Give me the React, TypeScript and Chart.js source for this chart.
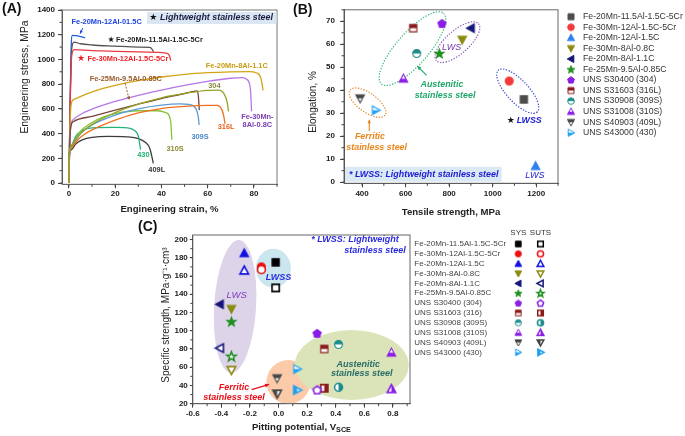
import React, { useEffect, useRef } from 'react';
import { Chart, registerables } from 'chart.js';

Chart.register(...registerables);

const FONT = '"Liberation Sans", Arial, Helvetica, sans-serif';

/* ---------------- Panel A: engineering stress-strain curves ---------------- */
const strainTicks = [0, 20, 40, 60, 80];
const stressTicks = [0, 200, 400, 600, 800, 1000, 1200, 1400];

// [engineering strain (%), engineering stress (MPa)]
const curveFe20Mn12Al15C = [[0, 0], [0.4, 520], [0.9, 1060], [1.5, 1195], [3, 1192], [5, 1185], [7, 1176]];
const curveFe20Mn115Al15C5Cr = [[0, 0], [0.5, 620], [1.2, 1085], [2.2, 1140], [5, 1127], [10, 1117], [20, 1108], [30, 1100], [35, 1097], [36, 1082], [36.6, 1062]];
const curveFe30Mn12Al15C5Cr = [[0, 0], [0.5, 600], [1.2, 1030], [2.2, 1080], [10, 1071], [20, 1066], [30, 1062], [38, 1058], [42, 1052], [43.5, 1030], [44, 990]];
const curveFe20Mn8Al11C = [[0, 0], [0.4, 420], [1, 640], [2, 675], [5, 700], [10, 738], [20, 790], [30, 828], [40, 858], [50, 880], [60, 893], [70, 900], [78, 902], [81, 892], [83, 850], [84, 750]];
const curveFe30Mn8Al08C = [[0, 0], [0.4, 350], [1, 480], [2, 515], [5, 555], [10, 598], [20, 660], [30, 710], [40, 752], [50, 790], [60, 823], [70, 848], [75, 853], [77, 838], [78.5, 760], [79, 580]];
const curveFe25Mn95Al085C = [[0, 0], [0.4, 350], [1, 470], [2, 498], [10, 540], [20, 590], [30, 638], [40, 684], [50, 724], [54, 742], [55.5, 745], [56, 700], [56.4, 590]];
const curve304 = [[0, 0], [0.2, 220], [1, 300], [5, 400], [10, 475], [20, 570], [30, 638], [40, 690], [50, 725], [60, 750], [65, 752], [67, 725], [68.5, 650], [69, 580]];
const curve316L = [[0, 0], [0.2, 220], [1, 285], [5, 370], [10, 430], [20, 510], [30, 568], [40, 603], [50, 620], [60, 628], [64, 628], [66, 600], [67, 540], [67.5, 480]];
const curve309S = [[0, 0], [0.2, 220], [1, 290], [5, 400], [10, 470], [20, 550], [30, 600], [40, 630], [48, 640], [52, 636], [55, 600], [56, 530], [56.3, 470]];
const curve310S = [[0, 0], [0.2, 230], [1, 300], [5, 420], [10, 490], [15, 535], [20, 562], [30, 585], [38, 585], [42, 570], [44, 500], [44.5, 350]];
const curve430 = [[0, 0], [0.2, 240], [1, 300], [3, 380], [6, 428], [10, 447], [20, 450], [25, 447], [28, 430], [30, 380], [31, 270]];
const curve409L = [[0, 0], [0.2, 230], [1, 268], [3, 318], [6, 352], [10, 370], [17, 378], [25, 374], [30, 360], [33, 330], [35, 280], [36.5, 160]];

/* ---------------- Panel B: elongation vs tensile strength ---------------- */
const materialsB = ['Fe-20Mn-11.5Al-1.5C-5Cr', 'Fe-30Mn-12Al-1.5C-5Cr', 'Fe-20Mn-12Al-1.5C', 'Fe-30Mn-8Al-0.8C', 'Fe-20Mn-8Al-1.1C', 'Fe-25Mn-9.5Al-0.85C', 'UNS S30400 (304)', 'UNS S31603 (316L)', 'UNS S30908 (309S)', 'UNS S31008 (310S)', 'UNS S40903 (409L)', 'UNS S43000 (430)'];
const tensileStrength = [1143, 1076, 1197, 860, 900, 755, 767, 635, 651, 590, 391, 463];
const elongation = [36, 44, 7, 62, 67, 56, 69, 67, 56, 45, 36.5, 31.3];
const tensileTicks = [400, 600, 800, 1000, 1200];
const elongationTicks = [0, 10, 20, 30, 40, 50, 60, 70];

/* ---------------- Panel C: specific strength vs pitting potential ---------------- */
const materialsC = ['Fe-20Mn-11.5Al-1.5C-5Cr', 'Fe-30Mn-12Al-1.5C-5Cr', 'Fe-20Mn-12Al-1.5C', 'Fe-30Mn-8Al-0.8C', 'Fe-20Mn-8Al-1.1C', 'Fe-25Mn-9.5Al-0.85C', 'UNS S30400 (304)', 'UNS S31603 (316)', 'UNS S30908 (309S)', 'UNS S31008 (310S)', 'UNS S40903 (409L)', 'UNS S43000 (430)'];
const pittingPotential = [-0.02, -0.12, -0.24, -0.33, -0.41, -0.33, 0.27, 0.32, 0.42, 0.79, -0.01, 0.13];
const specificStrengthSYS = [175, 170, 185, 124, 129, 110, 97, 80, 85, 76, 48, 58];
const specificStrengthSUTS = [147, 167, 166, 57, 81, 72, 35, 37, 38, 36, 31, 35];
const potentialTicks = [-0.6, -0.4, -0.2, 0, 0.2, 0.4, 0.6, 0.8];
const specificTicks = [20, 40, 60, 80, 100, 120, 140, 160, 180, 200];

/* ---------------- styles ---------------- */
const shapes = ['square', 'circle', 'triUp', 'triDown', 'triLeft', 'star', 'pentagon', 'square', 'circle', 'triUp', 'triDown', 'triRight'];
const colorsB = ['#4d4d4d', '#f23a3a', '#2f7ff0', '#8b8b12', '#14147a', '#1f8f1f', '#8a1ee6', '#8b1c1c', '#1f8c8c', '#8a1ee6', '#444444', '#1ea0f0'];
const colorsC = ['#000000', '#ee1010', '#1010e0', '#8b8b12', '#14147a', '#1f8f1f', '#8a1ee6', '#8b1c1c', '#1f8c8c', '#8a1ee6', '#444444', '#1ea0f0'];
const fillSYS = ['full', 'full', 'full', 'full', 'full', 'full', 'full', 'top', 'top', 'bottom', 'top', 'bottom'];
const fillSUTS = ['none', 'none', 'none', 'none', 'none', 'none', 'none', 'right', 'right', 'right', 'left', 'left'];

function tracePath(ctx: CanvasRenderingContext2D, shape: string, r: number) {
  ctx.beginPath();
  const poly = (pts: number[][]) => {
    ctx.moveTo(pts[0][0], pts[0][1]);
    for (let i = 1; i < pts.length; i++) ctx.lineTo(pts[i][0], pts[i][1]);
    ctx.closePath();
  };
  switch (shape) {
    case 'square': ctx.rect(-r * 0.8, -r * 0.8, r * 1.6, r * 1.6); break;
    case 'circle': ctx.arc(0, 0, r * 0.88, 0, Math.PI * 2); break;
    case 'triUp': poly([[0, -r], [r * 0.95, r * 0.75], [-r * 0.95, r * 0.75]]); break;
    case 'triDown': poly([[0, r], [r * 0.95, -r * 0.75], [-r * 0.95, -r * 0.75]]); break;
    case 'triLeft': poly([[-r, 0], [r * 0.75, -r * 0.95], [r * 0.75, r * 0.95]]); break;
    case 'triRight': poly([[r, 0], [-r * 0.75, -r * 0.95], [-r * 0.75, r * 0.95]]); break;
    case 'star': {
      const pts: number[][] = [];
      for (let i = 0; i < 10; i++) {
        const ang = -Math.PI / 2 + (i * Math.PI) / 5;
        const rr = i % 2 === 0 ? r * 1.08 : r * 0.45;
        pts.push([rr * Math.cos(ang), rr * Math.sin(ang) + r * 0.08]);
      }
      poly(pts);
      break;
    }
    case 'pentagon': {
      const pts: number[][] = [];
      for (let i = 0; i < 5; i++) {
        const ang = -Math.PI / 2 + (i * 2 * Math.PI) / 5;
        pts.push([r * 0.95 * Math.cos(ang), r * 0.95 * Math.sin(ang) + r * 0.06]);
      }
      poly(pts);
      break;
    }
  }
}

function makeMarker(shape: string, color: string, fill: string, size: number, lw: number): HTMLCanvasElement {
  const c = document.createElement('canvas');
  const dim = Math.ceil(size + 4);
  c.width = dim;
  c.height = dim;
  const ctx = c.getContext('2d') as CanvasRenderingContext2D;
  ctx.translate(dim / 2, dim / 2);
  const r = size / 2;
  tracePath(ctx, shape, r);
  ctx.fillStyle = fill === 'full' ? color : '#ffffff';
  ctx.fill();
  if (fill !== 'full' && fill !== 'none') {
    ctx.save();
    tracePath(ctx, shape, r);
    ctx.clip();
    ctx.fillStyle = color;
    const e = r * 1.6;
    if (fill === 'top') ctx.fillRect(-e, -e, 2 * e, e);
    if (fill === 'bottom') ctx.fillRect(-e, 0, 2 * e, e);
    if (fill === 'left') ctx.fillRect(-e, -e, e, 2 * e);
    if (fill === 'right') ctx.fillRect(0, -e, e, 2 * e);
    ctx.restore();
  }
  tracePath(ctx, shape, r);
  ctx.strokeStyle = color;
  ctx.lineWidth = lw;
  ctx.stroke();
  return c;
}

function txt(ctx: CanvasRenderingContext2D, s: string, x: number, y: number, font: string, color: string, align: CanvasTextAlign = 'center') {
  ctx.font = font;
  ctx.fillStyle = color;
  ctx.textAlign = align;
  ctx.textBaseline = 'middle';
  ctx.fillText(s, x, y);
}

function vtxt(ctx: CanvasRenderingContext2D, s: string, x: number, y: number, font: string, color: string) {
  ctx.save();
  ctx.translate(x, y);
  ctx.rotate(-Math.PI / 2);
  txt(ctx, s, 0, 0, font, color);
  ctx.restore();
}

function arrow(ctx: CanvasRenderingContext2D, x1: number, y1: number, x2: number, y2: number, color: string, lw: number, head: number, dash?: number[]) {
  ctx.save();
  ctx.strokeStyle = color;
  ctx.fillStyle = color;
  ctx.lineWidth = lw;
  if (dash) ctx.setLineDash(dash);
  ctx.beginPath();
  ctx.moveTo(x1, y1);
  ctx.lineTo(x2, y2);
  ctx.stroke();
  ctx.setLineDash([]);
  const a = Math.atan2(y2 - y1, x2 - x1);
  ctx.beginPath();
  ctx.moveTo(x2, y2);
  ctx.lineTo(x2 - head * Math.cos(a - 0.45), y2 - head * Math.sin(a - 0.45));
  ctx.lineTo(x2 - head * Math.cos(a + 0.45), y2 - head * Math.sin(a + 0.45));
  ctx.closePath();
  ctx.fill();
  ctx.restore();
}

function axis(min: number, max: number, ticks: number[], fmt: (v: number) => string, o: any) {
  return {
    type: 'linear',
    min,
    max,
    afterBuildTicks: (s: any) => { s.ticks = ticks.map((v) => ({ value: v })); },
    afterFit: (s: any) => {
      if (o.w != null) s.width = o.w;
      if (o.h != null) s.height = o.h;
    },
    ticks: { font: { family: FONT, size: 8, weight: 'bold' }, color: '#1a1a1a', padding: o.pad, maxRotation: 0, autoSkip: false, callback: (v: any) => fmt(Number(v)) },
    grid: { drawOnChartArea: false, drawTicks: true, tickLength: o.tl ?? 4, color: '#444444', tickWidth: 1 },
    border: { display: true, color: '#444444', width: 1 },
  };
}

function framePlugin(id: string, xStep: number, yStep: number, color: string) {
  return {
    id,
    afterDraw(chart: any) {
      const { ctx, chartArea: a, scales } = chart;
      ctx.save();
      ctx.strokeStyle = color;
      ctx.lineWidth = 1;
      ctx.strokeRect(a.left, a.top, a.right - a.left, a.bottom - a.top);
      ctx.strokeStyle = '#444444';
      ctx.beginPath();
      const sx = scales.x, sy = scales.y;
      const x0 = Math.ceil(sx.min / xStep - 1e-9);
      const x1 = Math.floor(sx.max / xStep + 1e-9);
      for (let i = x0; i <= x1; i++) {
        const p = sx.getPixelForValue(i * xStep);
        ctx.moveTo(p, a.bottom);
        ctx.lineTo(p, a.bottom + 2.5);
      }
      const y0 = Math.ceil(sy.min / yStep - 1e-9);
      const y1 = Math.floor(sy.max / yStep + 1e-9);
      for (let i = y0; i <= y1; i++) {
        const p = sy.getPixelForValue(i * yStep);
        ctx.moveTo(a.left, p);
        ctx.lineTo(a.left - 2.5, p);
      }
      ctx.stroke();
      ctx.restore();
    },
  };
}

/* ---------------- Panel A ---------------- */
function configA(): any {
  const series = [
    { data: curve304, color: '#95a325' },
    { data: curve316L, color: '#f07020' },
    { data: curve309S, color: '#5a9ad6' },
    { data: curve310S, color: '#86c23a' },
    { data: curve430, color: '#25b27a' },
    { data: curve409L, color: '#3c3c3c' },
    { data: curveFe25Mn95Al085C, color: '#7a4535' },
    { data: curveFe30Mn8Al08C, color: '#b577e6' },
    { data: curveFe20Mn8Al11C, color: '#d2a414' },
    { data: curveFe30Mn12Al15C5Cr, color: '#e83a44' },
    { data: curveFe20Mn115Al15C5Cr, color: '#555555' },
    { data: curveFe20Mn12Al15C, color: '#1f5fe6' },
  ];
  const annot = {
    id: 'annotA',
    afterDraw(chart: any) {
      const { ctx, chartArea: a } = chart;
      const X = (v: number) => chart.scales.x.getPixelForValue(v);
      const Y = (v: number) => chart.scales.y.getPixelForValue(v);
      const B = `bold 7.4px ${FONT}`;
      ctx.save();
      ctx.fillStyle = '#dbe6f3';
      ctx.fillRect(X(33.8), Y(1384), a.right - 0.5 - X(33.8), Y(1287) - Y(1384));
      txt(ctx, '★', X(36.5), Y(1335), '9px "DejaVu Sans"', '#111111');
      txt(ctx, 'Lightweight stainless steel', X(39.4), Y(1335), `italic bold 8.9px ${FONT}`, '#1b1b40', 'left');

      txt(ctx, 'Fe-20Mn-12Al-01.5C', X(16.3), Y(1303), B, '#1f45e0');
      arrow(ctx, X(6), Y(1254), X(4.8), Y(1208), '#1f45e0', 1, 3.5);
      txt(ctx, '★', X(18.2), Y(1155), '8px "DejaVu Sans"', '#111111');
      txt(ctx, 'Fe-20Mn-11.5Al-1.5C-5Cr', X(20.4), Y(1155), B, '#222222', 'left');
      txt(ctx, '★', X(5.2), Y(1005), '9px "DejaVu Sans"', '#ee1c24');
      txt(ctx, 'Fe-30Mn-12Al-1.5C-5Cr', X(8), Y(1000), B, '#ee1c24', 'left');
      txt(ctx, 'Fe-25Mn-9.5Al-0.85C', X(24.6), Y(844), B, '#9a5a2a');
      arrow(ctx, X(24.3), Y(807), X(26.1), Y(672), '#9a5a2a', 1, 4, [2, 1.5]);
      txt(ctx, 'Fe-20Mn-8Al-1.1C', X(72.6), Y(950), B, '#c89a10');
      txt(ctx, '304', X(62.9), Y(785), B, '#8a8a40');
      txt(ctx, 'Fe-30Mn-', X(81.5), Y(532), B, '#7a40b0');
      txt(ctx, '8Al-0.8C', X(81.5), Y(470), B, '#7a40b0');
      txt(ctx, '316L', X(68), Y(453), B, '#e8641a');
      txt(ctx, '309S', X(56.7), Y(373), B, '#4a8ac8');
      txt(ctx, '310S', X(45.9), Y(275), B, '#8a8a30');
      txt(ctx, '430', X(32.2), Y(227), B, '#1ab070');
      txt(ctx, '409L', X(38), Y(106), B, '#333333');

      txt(ctx, '(A)', 2, 9.5, `bold 14px ${FONT}`, '#111111', 'left');
      vtxt(ctx, 'Engineering stress, MPa', 25, 77, `10.4px ${FONT}`, '#222222');
      txt(ctx, 'Engineering strain, %', (a.left + a.right) / 2, 209, `bold 9.6px ${FONT}`, '#222222');
      ctx.restore();
    },
  };
  return {
    type: 'scatter',
    data: {
      datasets: series.map((s) => ({
        data: s.data.map(([x, y]) => ({ x, y })),
        showLine: true,
        borderColor: s.color,
        backgroundColor: s.color,
        borderWidth: 1.3,
        pointRadius: 0,
        cubicInterpolationMode: 'monotone',
        fill: false,
      })),
    },
    options: {
      responsive: false,
      animation: false,
      events: [],
      layout: { padding: { left: 0, top: 10, right: 285 - 277, bottom: 0 } },
      plugins: { legend: { display: false }, tooltip: { enabled: false } },
      scales: {
        x: axis(-3, 90, strainTicks, (v) => String(v), { h: 222 - 184.3, pad: 1 }),
        y: axis(-10, 1400, stressTicks, (v) => String(v), { w: 62, pad: 3 }),
      },
    },
    plugins: [framePlugin('frameA', 10, 100, '#777777'), annot],
  };
}

/* ---------------- Panel B ---------------- */
function configB(): any {
  const markers = shapes.map((sh, i) => makeMarker(sh, colorsB[i], fillSYS[i], 9, 1.1));
  const legendMarkers = shapes.map((sh, i) => makeMarker(sh, colorsB[i], fillSYS[i], 7.5, 1));
  const annot = {
    id: 'annotB',
    beforeDatasetsDraw(chart: any) {
      const { ctx } = chart;
      const X = (v: number) => chart.scales.x.getPixelForValue(v);
      const Y = (v: number) => chart.scales.y.getPixelForValue(v);
      const ell = (cx: number, cy: number, ra: number, rb: number, rot: number, color: string) => {
        ctx.save();
        ctx.strokeStyle = color;
        ctx.lineWidth = 1.2;
        ctx.setLineDash([1.3, 1.5]);
        ctx.beginPath();
        ctx.ellipse(X(cx), Y(cy), ra, rb, rot, 0, Math.PI * 2);
        ctx.stroke();
        ctx.restore();
      };
      ell(631.5, 58.1, 47, 16, -0.85, '#33b87a');
      ell(838, 60.9, 28, 11.5, -0.72, '#8a5ab8');
      ell(424.8, 34.6, 21.5, 9.5, 0.62, '#e08a2a');
      ell(1115, 39.6, 28.5, 11, 0.82, '#3a46c8');
    },
    afterDraw(chart: any) {
      const { ctx, chartArea: a } = chart;
      const X = (v: number) => chart.scales.x.getPixelForValue(v);
      const Y = (v: number) => chart.scales.y.getPixelForValue(v);
      const BI = `italic bold 8.9px ${FONT}`;
      ctx.save();
      txt(ctx, 'Austenitic', X(767), Y(42.6), BI, '#22a86a');
      txt(ctx, 'stainless steel', X(781), Y(37.8), BI, '#22a86a');
      arrow(ctx, X(696.7), Y(46.5), X(653.6), Y(50.5), '#22a86a', 1.1, 4.5);
      txt(ctx, 'Ferritic', X(436.3), Y(19.7), BI, '#e8861a');
      txt(ctx, 'stainless steel', X(467), Y(15.1), BI, '#e8861a');
      arrow(ctx, X(433), Y(22.2), X(433), Y(27.2), '#e8861a', 1.1, 4);
      txt(ctx, 'LWS', X(811.6), Y(58.8), `italic 9px ${FONT}`, '#7a3ab0');
      txt(ctx, '★', X(1082.6), Y(26.7), '9px "DejaVu Sans"', '#111111');
      txt(ctx, 'LWSS', X(1110), Y(26.7), BI, '#1a1ad0', 'left');
      txt(ctx, 'LWS', X(1194), Y(2.8), `italic 9px ${FONT}`, '#1a1ad0');
      ctx.fillStyle = '#dbe9f5';
      ctx.fillRect(X(321.4), Y(6.7), X(1041) - X(321.4), Y(0.2) - Y(6.7));
      txt(ctx, '* LWSS: Lightweight stainless steel', X(339.8), Y(3.5), BI, '#1a1ad0', 'left');

      // legend
      materialsB.forEach((m, i) => {
        const y = 16.7 + i * 10.55;
        const img = legendMarkers[i];
        ctx.drawImage(img, 286 - img.width / 2, y - img.height / 2);
        txt(ctx, m, 298, y, `8.7px ${FONT}`, '#333333', 'left');
      });

      txt(ctx, '(B)', 8, 10, `bold 14px ${FONT}`, '#111111', 'left');
      vtxt(ctx, 'Elongation, %', 28, 102, `10px ${FONT}`, '#222222');
      txt(ctx, 'Tensile strength, MPa', (a.left + a.right) / 2, 212, `bold 9.6px ${FONT}`, '#222222');
      ctx.restore();
    },
  };
  return {
    type: 'scatter',
    data: {
      datasets: materialsB.map((m, i) => ({
        label: m,
        data: [{ x: tensileStrength[i], y: elongation[i] }],
        pointStyle: markers[i],
        pointRadius: 4.5,
      })),
    },
    options: {
      responsive: false,
      animation: false,
      events: [],
      layout: { padding: { left: 0, top: 9.3, right: 400 - 273, bottom: 0 } },
      plugins: { legend: { display: false }, tooltip: { enabled: false } },
      scales: {
        x: axis(317, 1300, tensileTicks, (v) => String(v), { h: 222 - 183.3, pad: 1.5 }),
        y: axis(-0.5, 75, elongationTicks, (v) => String(v), { w: 59, pad: 5 }),
      },
    },
    plugins: [annot, framePlugin('frameB', 100, 5, '#666666')],
  };
}

/* ---------------- Panel C ---------------- */
function configC(): any {
  const sysMarkers = shapes.map((sh, i) => makeMarker(sh, colorsC[i], fillSYS[i], 9, 1.1));
  const sutsMarkers = shapes.map((sh, i) => makeMarker(sh, colorsC[i], fillSUTS[i], 9, 1.6));
  const sysLegend = shapes.map((sh, i) => makeMarker(sh, colorsC[i], fillSYS[i], 7, 1));
  const sutsLegend = shapes.map((sh, i) => makeMarker(sh, colorsC[i], fillSUTS[i], 7, 1.5));
  const annot = {
    id: 'annotC',
    beforeDatasetsDraw(chart: any) {
      const { ctx, chartArea: a } = chart;
      const X = (v: number) => chart.scales.x.getPixelForValue(v);
      const Y = (v: number) => chart.scales.y.getPixelForValue(v);
      ctx.save();
      ctx.beginPath();
      ctx.rect(a.left, a.top, a.right - a.left, a.bottom - a.top);
      ctx.clip();
      const blob = (cx: number, cy: number, rx: number, ry: number, rot: number, color: string) => {
        ctx.fillStyle = color;
        ctx.beginPath();
        ctx.ellipse(X(cx), Y(cy), rx, ry, rot, 0, Math.PI * 2);
        ctx.fill();
      };
      blob(-0.304, 126.6, 21, 66.5, 0.06, '#ddd4e9');
      blob(-0.036, 168.5, 17.5, 19.5, 0, '#cbe6ee');
      blob(0.069, 43.8, 22, 22, 0, '#fbcaa8');
      blob(0.512, 62.4, 57, 35, 0, '#dbe3b9');
      ctx.restore();
    },
    afterDraw(chart: any) {
      const { ctx, chartArea: a } = chart;
      const X = (v: number) => chart.scales.x.getPixelForValue(v);
      const Y = (v: number) => chart.scales.y.getPixelForValue(v);
      const BI = `italic bold 9px ${FONT}`;
      ctx.save();
      txt(ctx, 'LWS', X(-0.293), Y(139.2), `italic 9.5px ${FONT}`, '#8040c0');
      txt(ctx, 'LWSS', X(0), Y(158.6), BI, '#2a2ae0');
      txt(ctx, '* LWSS: Lightweight', X(0.535), Y(199.5), BI, '#2a2ae0');
      txt(ctx, 'stainless steel', X(0.675), Y(187.8), BI, '#2a2ae0');
      txt(ctx, 'Austenitic', X(0.558), Y(63.5), BI, '#2a6e68');
      txt(ctx, 'stainless steel', X(0.582), Y(52.6), BI, '#2a6e68');
      txt(ctx, 'Ferritic', X(-0.311), Y(38), BI, '#e8101a');
      txt(ctx, 'stainless steel', X(-0.311), Y(27), BI, '#e8101a');
      arrow(ctx, X(-0.188), Y(35.5), X(-0.066), Y(41.2), '#e8101a', 1.2, 4.5);

      // legend
      txt(ctx, 'SYS', 388.3, 18, `8px ${FONT}`, '#333333');
      txt(ctx, 'SUTS', 410.5, 18, `8px ${FONT}`, '#333333');
      materialsC.forEach((m, i) => {
        const y = 29 + i * 9.85;
        txt(ctx, m, 284.3, y, `8px ${FONT}`, '#444444', 'left');
        const s1 = sysLegend[i], s2 = sutsLegend[i];
        ctx.drawImage(s1, 388.3 - s1.width / 2, y - s1.height / 2);
        ctx.drawImage(s2, 410.5 - s2.width / 2, y - s2.height / 2);
      });

      txt(ctx, '(C)', 8, 12, `bold 14px ${FONT}`, '#111111', 'left');
      vtxt(ctx, 'Specific strength, MPa·g⁻¹·cm³', 36.7, 100, `10px ${FONT}`, '#222222');
      const main = 'Pitting potential, V';
      ctx.font = `bold 9.6px ${FONT}`;
      const w1 = ctx.measureText(main).width;
      ctx.font = `bold 7.2px ${FONT}`;
      const w2 = ctx.measureText('SCE').width;
      const x0 = (a.left + a.right) / 2 - (w1 + w2) / 2;
      txt(ctx, main, x0, 212, `bold 9.6px ${FONT}`, '#222222', 'left');
      txt(ctx, 'SCE', x0 + w1, 215, `bold 7.2px ${FONT}`, '#222222', 'left');
      ctx.restore();
    },
  };
  return {
    type: 'scatter',
    data: {
      datasets: materialsC.map((m, i) => ({
        label: m,
        data: [
          { x: pittingPotential[i], y: specificStrengthSYS[i] },
          { x: pittingPotential[i], y: specificStrengthSUTS[i] },
        ],
        pointStyle: [sysMarkers[i], sutsMarkers[i]],
        pointRadius: 4.5,
      })),
    },
    options: {
      responsive: false,
      animation: false,
      events: [],
      layout: { padding: { left: 0, top: 20, right: 555 - 280, bottom: 0 } },
      plugins: { legend: { display: false }, tooltip: { enabled: false } },
      scales: {
        x: axis(-0.6, 0.92, potentialTicks, (v) => v.toFixed(1), { h: 221 - 188.7, pad: 1 }),
        y: axis(20, 205, specificTicks, (v) => String(v), { w: 62.8, pad: 2, tl: 3 }),
      },
    },
    plugins: [annot, framePlugin('frameC', 0.1, 10, '#666666')],
  };
}

export default function App() {
  const refA = useRef<HTMLCanvasElement | null>(null);
  const refB = useRef<HTMLCanvasElement | null>(null);
  const refC = useRef<HTMLCanvasElement | null>(null);
  useEffect(() => {
    const charts = [
      new Chart(refA.current as HTMLCanvasElement, configA()),
      new Chart(refB.current as HTMLCanvasElement, configB()),
      new Chart(refC.current as HTMLCanvasElement, configC()),
    ];
    return () => charts.forEach((c) => c.destroy());
  }, []);
  const abs = (left: number, top: number): React.CSSProperties => ({ position: 'absolute', left, top, display: 'block' });
  return (
    <div style={{ position: 'fixed', left: 0, top: 0, width: 685, height: 436, background: '#ffffff', overflow: 'hidden' }}>
      <canvas ref={refA} width={285} height={222} style={abs(0, 0)} />
      <canvas ref={refB} width={400} height={222} style={abs(285, 0)} />
      <canvas ref={refC} width={555} height={221} style={abs(130, 215)} />
    </div>
  );
}
